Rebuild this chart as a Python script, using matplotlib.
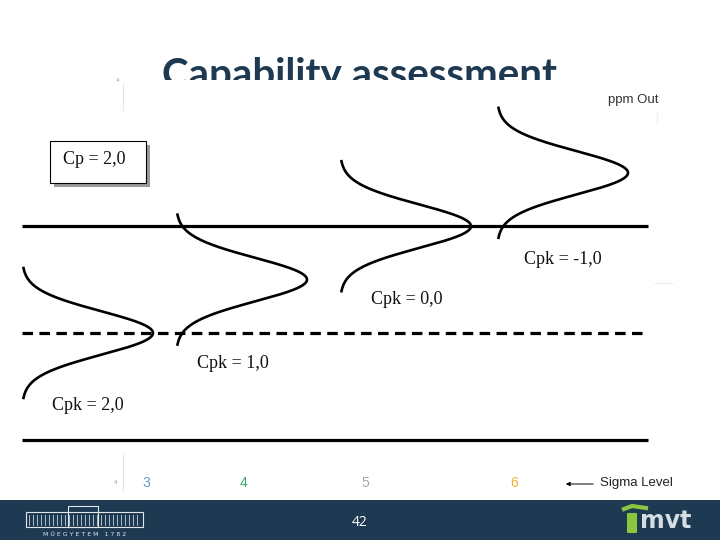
"""
Capability assessment slide: Cpk comparison with spec limits and shifted normal curves.
"""

import matplotlib.pyplot as plt
import matplotlib.patches as mpatches
import numpy as np

# ---- data ----
cp_value = 2.0                      # Cp of the process
cpk_values = [2.0, 1.0, 0.0, -1.0]  # one curve per Cpk
cpk_labels = ["Cpk = 2,0", "Cpk = 1,0", "Cpk = 0,0", "Cpk = -1,0"]
sigma_levels = ["3", "4", "5", "6"]
sigma_colors = ["#5b9bd5", "#3aa76d", "#a6a6a6", "#f2b134"]

# ---- layout (pixels on a 720x540 slide) ----
W, H = 720, 540
CENTER_PX = 333          # pixel row of the process target
SIGMA_PX = 17.8          # pixels per sigma
CURVE_X0 = [22, 176, 340, 497]
PEAK_W = 131
DRAW_SD = 1.22           # drawn spread of each bell, in sigma
LABEL_XY = [(52, 405), (197, 364), (371, 299), (524, 260)]
SIGMA_X = [146, 244, 365, 514]
NAVY = "#1d3a52"

fig = plt.figure(figsize=(7.2, 5.4), dpi=100, facecolor="white")

# pixel-space overlay for slide decorations
ax = fig.add_axes([0, 0, 1, 1])
ax.set_xlim(0, W)
ax.set_ylim(H, 0)
ax.axis("off")

# chart axes: x in pixels, y in sigma units around the target
cx = fig.add_axes([0, 0, 1, 1])
cx.set_xlim(0, W)
cx.set_ylim(-(H - CENTER_PX) / SIGMA_PX, CENTER_PX / SIGMA_PX)
cx.axis("off")
cx.patch.set_alpha(0)

# title, cut off by the pasted picture
ax.text(360, 57, "Capability assessment", ha="center", va="top",
        fontsize=29, fontweight="bold", color=NAVY, family="Lato", zorder=1)
ax.add_patch(mpatches.Rectangle((0, 80), W, 420, facecolor="white",
                                edgecolor="none", zorder=2))

# spec limits and target
half = 3 * cp_value
cx.plot([22, 648], [half, half], color="black", lw=2.3, solid_capstyle="butt", zorder=3)
cx.plot([22, 648], [-half, -half], color="black", lw=2.3, solid_capstyle="butt", zorder=3)
cx.plot([22, 648], [0, 0], color="black", lw=2.3, ls=(0, (3.3, 2.0)), zorder=3)

# shifted bells, peak pointing right
for cpk, x0 in zip(cpk_values, CURVE_X0):
    mu = half - 3 * cpk
    y = np.linspace(mu - 3.65, mu + 3.65, 300)
    x = x0 + PEAK_W * np.exp(-(y - mu) ** 2 / (2 * DRAW_SD ** 2))
    cx.plot(x, y, color="black", lw=1.9, zorder=4)

for lab, (lx, ly) in zip(cpk_labels, LABEL_XY):
    ax.text(lx, ly, lab, ha="left", va="center", fontsize=13,
            family="Liberation Serif", color="#111111", zorder=5)

# Cp box with shadow
ax.add_patch(mpatches.Rectangle((54, 145), 96, 42, facecolor="#9a9a9a",
                                edgecolor="none", zorder=5))
ax.add_patch(mpatches.Rectangle((50, 141), 96, 42, facecolor="white",
                                edgecolor="black", lw=0.8, zorder=6))
ax.text(63, 159, f"Cp = {cp_value:.1f}".replace(".", ","), ha="left", va="center",
        fontsize=13, family="Liberation Serif", color="#111111", zorder=7)

# leftover bits of the pasted picture
ax.text(608, 100, "ppm Out", ha="left", va="center", fontsize=9.5,
        family="Liberation Sans", color="#333333", zorder=5)
ax.text(117, 80, "4", ha="center", va="center", fontsize=4, color="#999999", zorder=5)
ax.plot([123, 123], [84, 110], color="#e4e4e4", lw=0.8, zorder=5)
ax.plot([123, 123], [455, 490], color="#e4e4e4", lw=0.8, zorder=5)
ax.text(115, 483, "4", ha="center", va="center", fontsize=4, color="#999999", zorder=5)
ax.plot([655, 672], [283, 283], color="#eeeeee", lw=1, zorder=5)
ax.plot([657, 657], [113, 122], color="#eeeeee", lw=1, zorder=5)

for s, c, sx in zip(sigma_levels, sigma_colors, SIGMA_X):
    ax.text(sx, 483, s, ha="center", va="center", fontsize=10,
            family="Liberation Sans", color=c, zorder=5)
ax.annotate("", xy=(563, 484), xytext=(596, 484), zorder=5,
            arrowprops=dict(arrowstyle="-|>", color="black", lw=0.7,
                            mutation_scale=6))
ax.text(600, 483, "Sigma Level", ha="left", va="center", fontsize=9.5,
        family="Liberation Sans", color="#222222", zorder=5)

# footer band
ax.add_patch(mpatches.Rectangle((0, 500), W, 40, facecolor=NAVY,
                                edgecolor="none", zorder=8))
ax.text(360, 522, "42", ha="center", va="center", fontsize=10,
        color="white", family="Open Sans", zorder=9)

# university building logo (simplified)
ax.add_patch(mpatches.Rectangle((26, 512), 117, 15, facecolor="none",
                                edgecolor="#dfe6ec", lw=0.8, zorder=9))
ax.add_patch(mpatches.Rectangle((68, 506), 30, 21, facecolor="none",
                                edgecolor="#dfe6ec", lw=0.8, zorder=9))
for wx in np.arange(29, 141, 4):
    ax.plot([wx, wx], [515, 525], color="#c9d3dc", lw=0.6, zorder=9)
ax.text(85, 534, "M Ű E G Y E T E M   1 7 8 2", ha="center", va="center",
        fontsize=4.5, color="#dfe6ec", zorder=9)

# mvt logo (simplified)
ax.add_patch(mpatches.FancyBboxPatch((628, 514), 8, 18, boxstyle="round,pad=1",
                                     facecolor="#8cc63f", edgecolor="none", zorder=9))
ax.plot([624, 632, 646], [509, 506, 508], color="#8cc63f", lw=3, zorder=9)
ax.text(640, 521, "mvt", ha="left", va="center", fontsize=17, fontweight="bold",
        color="#d5dde3", family="Liberation Sans Narrow", zorder=9)

fig.savefig("out.png", dpi=100, facecolor="white")
